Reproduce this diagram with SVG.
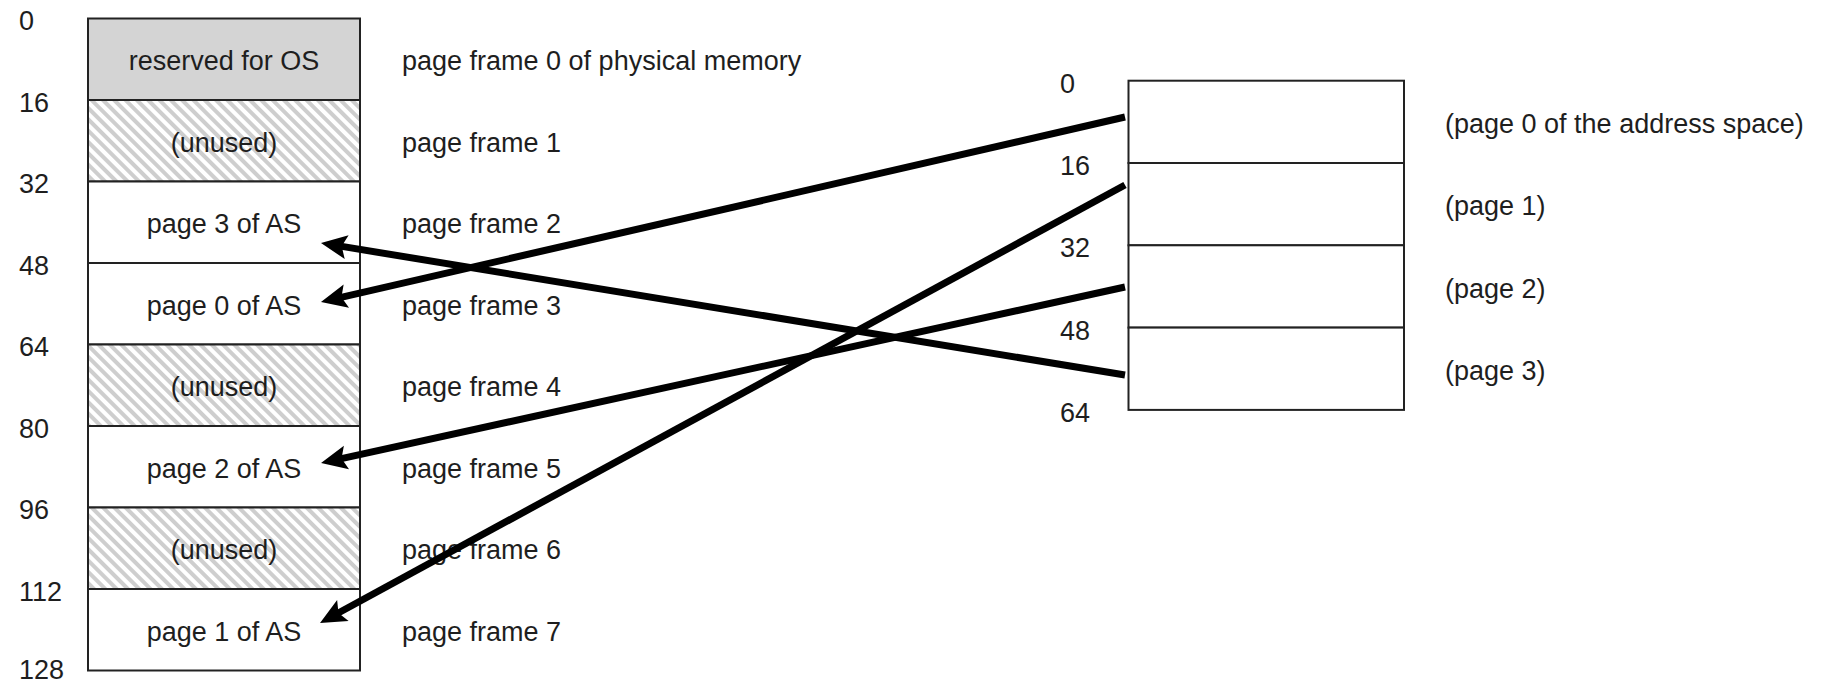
<svg xmlns="http://www.w3.org/2000/svg" width="1837" height="682" viewBox="0 0 1837 682">
<style>
text{font-family:"Liberation Sans",Arial,sans-serif;font-size:27px;fill:#1e1e1e}
.c{text-anchor:middle}
.box{stroke:#222;stroke-width:2;fill:#fff}
.os{fill:#d4d4d4}
.un{fill:url(#hatch)}
.conn{stroke:#000;stroke-width:7;fill:none;marker-end:url(#ah)}
</style>
<defs>
<pattern id="hatch" patternUnits="userSpaceOnUse" width="8" height="8" patternTransform="rotate(-45)">
<rect width="8" height="8" fill="#fff"/>
<rect width="4" height="8" fill="#cecece"/>
</pattern>
<marker id="ah" markerUnits="userSpaceOnUse" markerWidth="30" markerHeight="26" refX="11" refY="12" orient="auto" overflow="visible">
<path d="M26,12 L0,0 L5,12 L0,24 Z" fill="#000"/>
</marker>
</defs>
<rect width="1837" height="682" fill="#fff"/>

<g id="physical-memory">
<g id="frame0"><rect class="box os" x="88" y="18.5" width="272" height="81.5"/><text class="c" x="224" y="70">reserved for OS</text><text x="402" y="70">page frame 0 of physical memory</text></g>
<g id="frame1"><rect class="box un" x="88" y="100" width="272" height="81.5"/><text class="c" x="224" y="151.5">(unused)</text><text x="402" y="151.5">page frame 1</text></g>
<g id="frame2"><rect class="box" x="88" y="181.5" width="272" height="81.5"/><text class="c" x="224" y="233">page 3 of AS</text><text x="402" y="233">page frame 2</text></g>
<g id="frame3"><rect class="box" x="88" y="263" width="272" height="81.5"/><text class="c" x="224" y="314.5">page 0 of AS</text><text x="402" y="314.5">page frame 3</text></g>
<g id="frame4"><rect class="box un" x="88" y="344.5" width="272" height="81.5"/><text class="c" x="224" y="396">(unused)</text><text x="402" y="396">page frame 4</text></g>
<g id="frame5"><rect class="box" x="88" y="426" width="272" height="81.5"/><text class="c" x="224" y="477.5">page 2 of AS</text><text x="402" y="477.5">page frame 5</text></g>
<g id="frame6"><rect class="box un" x="88" y="507.5" width="272" height="81.5"/><text class="c" x="224" y="559">(unused)</text><text x="402" y="559">page frame 6</text></g>
<g id="frame7"><rect class="box" x="88" y="589" width="272" height="81.5"/><text class="c" x="224" y="640.5">page 1 of AS</text><text x="402" y="640.5">page frame 7</text></g>
<g id="phys-addresses">
<text x="19" y="29.5">0</text><text x="19" y="111.5">16</text><text x="19" y="193">32</text><text x="19" y="274.5">48</text><text x="19" y="356">64</text><text x="19" y="437.5">80</text><text x="19" y="519">96</text><text x="19" y="600.5">112</text><text x="19" y="679">128</text>
</g>
</g>

<g id="address-space">
<g id="page0"><rect class="box" x="1128.5" y="80.7" width="275.5" height="82.3"/><text x="1445" y="133">(page 0 of the address space)</text></g>
<g id="page1"><rect class="box" x="1128.5" y="163" width="275.5" height="82.3"/><text x="1445" y="215.3">(page 1)</text></g>
<g id="page2"><rect class="box" x="1128.5" y="245.3" width="275.5" height="82.3"/><text x="1445" y="297.6">(page 2)</text></g>
<g id="page3"><rect class="box" x="1128.5" y="327.6" width="275.5" height="82.3"/><text x="1445" y="379.9">(page 3)</text></g>
<g id="as-addresses">
<text x="1060" y="92.7">0</text><text x="1060" y="175">16</text><text x="1060" y="257.3">32</text><text x="1060" y="339.6">48</text><text x="1060" y="421.9">64</text>
</g>
</g>

<g id="connectors">
<line class="conn" x1="1125" y1="117" x2="335.6" y2="298.6"/>
<line class="conn" x1="1125" y1="185" x2="333.2" y2="615.8"/>
<line class="conn" x1="1125" y1="287" x2="335.7" y2="459.8"/>
<line class="conn" x1="1125" y1="375" x2="335.8" y2="245.4"/>
</g>
</svg>
